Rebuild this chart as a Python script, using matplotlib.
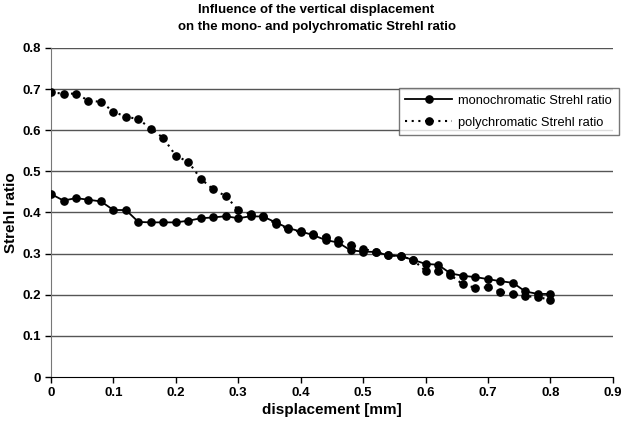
import numpy as np
import matplotlib
matplotlib.use('Agg')
from matplotlib import pyplot as plt

plt.rcParams['font.family'] = ['Liberation Sans', 'DejaVu Sans']

# displacement in mm, one point every 0.02
displacement = np.round(np.arange(0, 0.801, 0.02), 2)

mono = [0.445, 0.429, 0.435, 0.431, 0.427, 0.406, 0.406, 0.377, 0.376, 0.376,
        0.376, 0.380, 0.386, 0.388, 0.391, 0.386, 0.391, 0.390, 0.376, 0.362,
        0.354, 0.345, 0.333, 0.327, 0.308, 0.305, 0.304, 0.296, 0.294, 0.285,
        0.275, 0.273, 0.252, 0.246, 0.243, 0.238, 0.233, 0.229, 0.208, 0.202,
        0.202]
poly = [0.692, 0.689, 0.689, 0.672, 0.669, 0.645, 0.633, 0.627, 0.604, 0.581,
        0.538, 0.523, 0.482, 0.456, 0.440, 0.406, 0.396, 0.392, 0.372, 0.360,
        0.352, 0.347, 0.340, 0.333, 0.321, 0.312, 0.304, 0.296, 0.294, 0.285,
        0.258, 0.257, 0.248, 0.225, 0.217, 0.218, 0.207, 0.202, 0.196, 0.195,
        0.187]

xticks = [0, 0.1, 0.2, 0.3, 0.4, 0.5, 0.6, 0.7, 0.8, 0.9]
yticks = [0, 0.1, 0.2, 0.3, 0.4, 0.5, 0.6, 0.7, 0.8]

fig = plt.figure(figsize=(6.33, 4.21), dpi=100)
ax = fig.add_axes([0.0806, 0.1045, 0.8874, 0.7815])

for yv in yticks[1:]:
    ax.axhline(yv, color='#555555', lw=1.0, zorder=1)

ax.plot(displacement, mono, '-', color='black', lw=1.3, marker='o', ms=5.2,
        label='monochromatic Strehl ratio', zorder=3)
ax.plot(displacement, poly, color='black', lw=1.5, ls=(0, (1, 2.2)), marker='o',
        ms=5.2, label='polychromatic Strehl ratio', zorder=3)

ax.set_xlim(0, 0.9)
ax.set_ylim(0, 0.8)
ax.set_xticks(xticks)
ax.set_yticks(yticks)
ax.set_xticklabels([('%g' % v) for v in xticks], fontweight='bold', fontsize=9.5)
ax.set_yticklabels([('%g' % v) for v in yticks], fontweight='bold', fontsize=9.5)
ax.tick_params(direction='out', length=4, width=1, colors='black', pad=3)

ax.spines['top'].set_visible(False)
ax.spines['right'].set_visible(False)
ax.spines['left'].set_color('#777777')
ax.spines['bottom'].set_color('black')

ax.set_xlabel('displacement [mm]', fontweight='bold', fontsize=11, labelpad=3)
ax.set_ylabel('Strehl ratio', fontweight='bold', fontsize=11)
ax.yaxis.set_label_coords(-0.058, 0.5)

fig.text(0.5, 0.99, 'Influence of the vertical displacement\non the mono- and polychromatic Strehl ratio',
         ha='center', va='top', fontweight='bold', fontsize=9.5, linespacing=1.55)

leg = ax.legend(loc='upper right', bbox_to_anchor=(1.022, 0.897), fontsize=9.3,
                frameon=True, fancybox=False, edgecolor='#555555',
                handlelength=3.6, borderpad=0.5, labelspacing=0.75,
                handletextpad=0.5)
leg.get_frame().set_linewidth(1.0)

fig.savefig('out.png', dpi=100)
